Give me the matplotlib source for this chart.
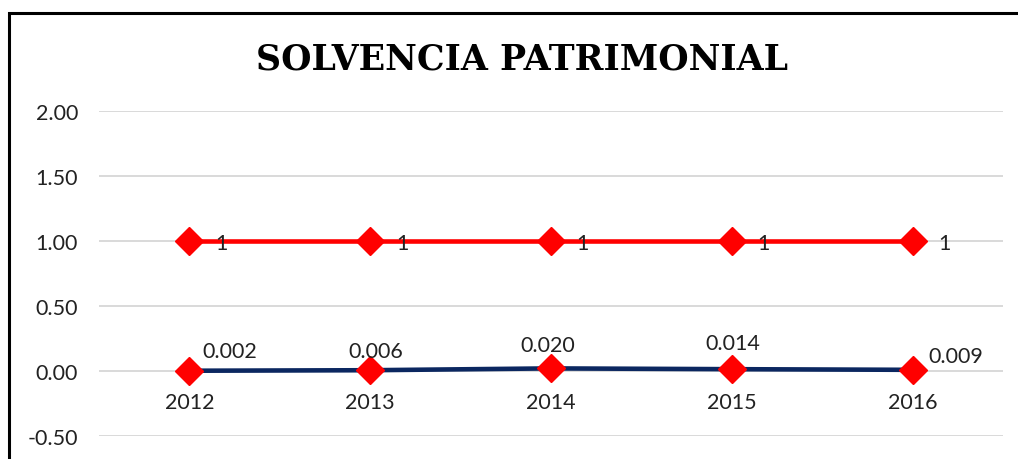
import matplotlib
matplotlib.use("Agg")
from matplotlib import pyplot as plt
from matplotlib.patches import Rectangle

years = ["2012", "2013", "2014", "2015", "2016"]
solvencia = [0.002, 0.006, 0.020, 0.014, 0.009]
referencia = [1, 1, 1, 1, 1]
solvencia_labels = ["0.002", "0.006", "0.020", "0.014", "0.009"]
referencia_labels = ["1", "1", "1", "1", "1"]
yticks = [-0.5, 0.0, 0.5, 1.0, 1.5, 2.0]

# label offsets in points (placed by hand like in the excel chart)
sol_offsets = [(29, 14), (4, 14), (-2, 17), (1, 19), (31, 10)]
ref_offsets = [(23, -1.5), (23, -1.5), (23, -1.5), (23, -1.5), (23, -1.5)]

plt.rcParams["font.family"] = ["Lato", "DejaVu Sans"]

fig = plt.figure(figsize=(10.18, 4.6), dpi=100)
ax = fig.add_axes([99 / 1018, 23 / 460, 904 / 1018, 325 / 460])

x = list(range(len(years)))
ax.plot(x, solvencia, color="#0B2760", lw=3.3, marker="D", ms=14.5,
		mfc="#FF0000", mec="#FF0000", zorder=3)
ax.plot(x, referencia, color="#FF0000", lw=3.3, marker="D", ms=14.5,
		mfc="#FF0000", mec="#FF0000", zorder=3)

for i in x:
	ax.annotate(solvencia_labels[i], (i, solvencia[i]), xytext=sol_offsets[i],
		textcoords="offset points", ha="center", va="center", fontsize=15.5, color="#222222")
	ax.annotate(referencia_labels[i], (i, referencia[i]), xytext=ref_offsets[i],
		textcoords="offset points", ha="center", va="center", fontsize=15.5, color="#222222", zorder=4)

ax.set_xlim(-0.5, len(years) - 0.5)
ax.set_ylim(-0.5, 2.0)
ax.set_yticks(yticks)
ax.set_yticklabels(["{0:.2f}".format(v) for v in yticks])
ax.set_xticks(x)
ax.set_xticklabels(years)
ax.tick_params(axis="y", length=0, pad=15, labelsize=15.5, labelcolor="#222222")
ax.tick_params(axis="x", length=0, pad=15, labelsize=15.5, labelcolor="#222222")
ax.spines["bottom"].set_position(("data", 0))
for s in ["top", "right", "left", "bottom"]:
	ax.spines[s].set_visible(False)
ax.grid(axis="y", color="#D9D9D9", lw=1.4)
ax.set_axisbelow(True)
ax.set_clip_on(False)

fig.text(522 / 1018, 1 - 59 / 460, "SOLVENCIA PATRIMONIAL", ha="center", va="center",
	fontsize=25, fontweight="heavy", family="DejaVu Serif", color="black")

fig.patches.append(Rectangle((9 / 1018, -0.1), 1.2, 1 - 14 / 460 + 0.1, transform=fig.transFigure,
	fill=False, ec="black", lw=2.2))

fig.savefig("out.png", dpi=100)
